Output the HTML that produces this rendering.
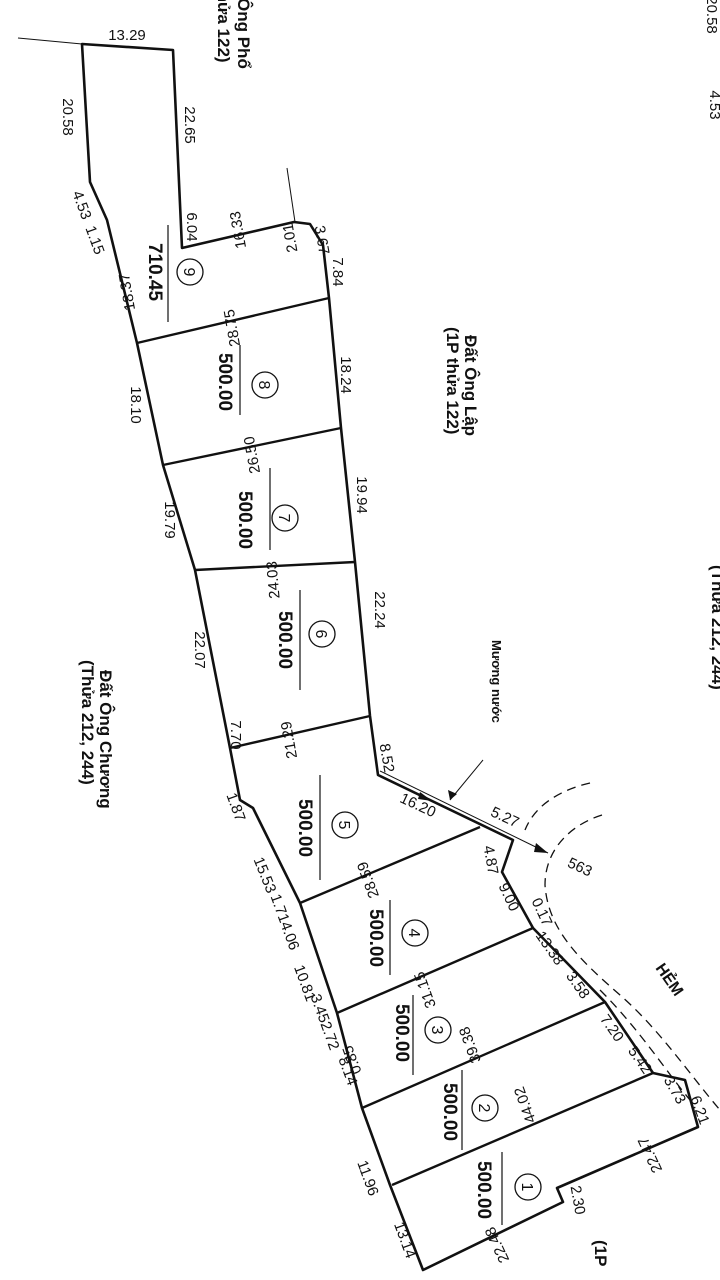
<!DOCTYPE html>
<html><head><meta charset="utf-8"><style>
html,body{margin:0;padding:0;background:#fff;}
svg{display:block;}
text{font-family:"Liberation Sans",sans-serif;fill:#111;}
.d{font-size:15px;}
.a{font-size:19px;font-weight:bold;}
.n{font-size:16px;}
.o{font-family:"Liberation Serif",serif;font-weight:bold;font-size:17px;}
</style></head><body>
<svg width="720" height="1280" viewBox="0 0 720 1280" xmlns="http://www.w3.org/2000/svg">
<g fill="none" stroke="#111">
<line x1="18" y1="38" x2="82" y2="44" stroke-width="1"/>
<line x1="287" y1="168" x2="295" y2="222" stroke-width="1"/>
<polygon stroke-width="2.6" stroke-linejoin="round" points="82,44 173,50 182,248 294,222 310,224 323,245 329,298 341,428 355,562 370,716 378,775 513,840 502,872 533,928 605,1002 653,1073 685,1080 698,1127 557,1188 563,1202 423,1270 390,1185 362,1108 337,1013 300,903 253,808 240,800 230,748 195,570 163,465 137,343 107,220 90,182"/>
<g stroke-width="2.4">
<line x1="137" y1="343" x2="329" y2="298"/>
<line x1="163" y1="465" x2="341" y2="428"/>
<line x1="195" y1="570" x2="355" y2="562"/>
<line x1="230" y1="748" x2="370" y2="716"/>
<line x1="300" y1="903" x2="480" y2="827"/>
<line x1="337" y1="1013" x2="533" y2="928"/>
<line x1="362" y1="1108" x2="605" y2="1002"/>
<line x1="392" y1="1185" x2="653" y2="1073"/>
</g>
<line x1="380" y1="771" x2="548" y2="853" stroke-width="1"/>
<line x1="483" y1="760" x2="450" y2="800" stroke-width="1"/>
<g stroke-width="1.3" stroke-dasharray="9,6">
<path d="M590,783 C560,790 535,805 525,830"/>
<path d="M602,815 C570,825 545,850 545,885 C548,930 580,960 620,995 C660,1030 690,1075 720,1110"/>
<path d="M600,990 C640,1030 665,1070 690,1100"/>
</g>
<g stroke-width="1.2">
<line x1="168" y1="225" x2="168" y2="322"/>
<line x1="240" y1="345" x2="240" y2="415"/>
<line x1="270" y1="468" x2="270" y2="550"/>
<line x1="300" y1="590" x2="300" y2="690"/>
<line x1="320" y1="775" x2="320" y2="880"/>
<line x1="390" y1="900" x2="390" y2="975"/>
<line x1="413" y1="995" x2="413" y2="1075"/>
<line x1="462" y1="1070" x2="462" y2="1150"/>
<line x1="502" y1="1152" x2="502" y2="1225"/>
</g>
<g stroke-width="1.3">
<circle cx="190" cy="272" r="13"/><circle cx="265" cy="385" r="13"/><circle cx="285" cy="518" r="13"/>
<circle cx="322" cy="634" r="13"/><circle cx="345" cy="825" r="13"/><circle cx="415" cy="933" r="13"/>
<circle cx="438" cy="1030" r="13"/><circle cx="485" cy="1108" r="13"/><circle cx="528" cy="1187" r="13"/>
</g>
</g>
<polygon points="548,853 536,843 534,852" fill="#111"/>
<polygon points="450,800 448,790 457,794" fill="#111"/>
<polygon points="432,801 420,792 418,799" fill="#111"/>
<g class="n" text-anchor="middle">
<text transform="translate(190,272) rotate(90)" y="6">9</text>
<text transform="translate(265,385) rotate(90)" y="6">8</text>
<text transform="translate(285,518) rotate(90)" y="6">7</text>
<text transform="translate(322,634) rotate(90)" y="6">6</text>
<text transform="translate(345,825) rotate(90)" y="6">5</text>
<text transform="translate(415,933) rotate(90)" y="6">4</text>
<text transform="translate(438,1030) rotate(90)" y="6">3</text>
<text transform="translate(485,1108) rotate(90)" y="6">2</text>
<text transform="translate(528,1187) rotate(90)" y="6">1</text>
</g>
<g class="a" text-anchor="middle">
<text transform="translate(155,272) rotate(90)" y="6">710.45</text>
<text transform="translate(225,382) rotate(90)" y="6">500.00</text>
<text transform="translate(245,520) rotate(90)" y="6">500.00</text>
<text transform="translate(285,640) rotate(90)" y="6">500.00</text>
<text transform="translate(305,828) rotate(90)" y="6">500.00</text>
<text transform="translate(376,938) rotate(90)" y="6">500.00</text>
<text transform="translate(402,1033) rotate(90)" y="6">500.00</text>
<text transform="translate(450,1112) rotate(90)" y="6">500.00</text>
<text transform="translate(484,1190) rotate(90)" y="6">500.00</text>
</g>
<g class="d" text-anchor="middle">
<text x="127" y="40">13.29</text>
<text transform="translate(68,117) rotate(90)" y="5">20.58</text>
<text transform="translate(190,125) rotate(90)" y="5">22.65</text>
<text transform="translate(82,205) rotate(70)" y="5">4.53</text>
<text transform="translate(95,240) rotate(70)" y="5">1.15</text>
<text transform="translate(192,227) rotate(90)" y="5">6.04</text>
<text transform="translate(238,230) rotate(-100)" y="5">16.33</text>
<text transform="translate(290,238) rotate(-100)" y="5">2.01</text>
<text transform="translate(322,240) rotate(80)" y="5">3.67</text>
<text transform="translate(338,272) rotate(90)" y="5">7.84</text>
<text transform="translate(127,292) rotate(-100)" y="5">18.37</text>
<text transform="translate(232,328) rotate(-100)" y="5">28.75</text>
<text transform="translate(346,375) rotate(90)" y="5">18.24</text>
<text transform="translate(136,405) rotate(90)" y="5">18.10</text>
<text transform="translate(252,455) rotate(-100)" y="5">26.50</text>
<text transform="translate(362,495) rotate(90)" y="5">19.94</text>
<text transform="translate(170,520) rotate(90)" y="5">19.79</text>
<text transform="translate(273,580) rotate(-95)" y="5">24.03</text>
<text transform="translate(380,610) rotate(90)" y="5">22.24</text>
<text transform="translate(200,650) rotate(90)" y="5">22.07</text>
<text transform="translate(289,740) rotate(-100)" y="5">21.29</text>
<text transform="translate(387,758) rotate(80)" y="5">8.52</text>
<text transform="translate(236,735) rotate(90)" y="5">7.70</text>
<text transform="translate(236,807) rotate(70)" y="5">1.87</text>
<text transform="translate(418,805) rotate(25)" y="5">16.20</text>
<text transform="translate(505,817) rotate(25)" y="5">5.27</text>
<text transform="translate(580,867) rotate(25)" y="5">563</text>
<text transform="translate(491,860) rotate(80)" y="5">4.87</text>
<text transform="translate(509,897) rotate(65)" y="5">9.00</text>
<text transform="translate(542,912) rotate(65)" y="5">0.17</text>
<text transform="translate(368,880) rotate(-110)" y="5">28.59</text>
<text transform="translate(265,875) rotate(68)" y="5">15.53</text>
<text transform="translate(285,922) rotate(70)" y="5">1.714.06</text>
<text transform="translate(305,983) rotate(70)" y="5">10.81</text>
<text transform="translate(325,1022) rotate(70)" y="5">3.452.72</text>
<text transform="translate(348,1071) rotate(70)" y="5">8.14</text>
<text transform="translate(352,1060) rotate(-110)" y="5">0.85</text>
<text transform="translate(425,990) rotate(-110)" y="5">31.15</text>
<text transform="translate(550,948) rotate(55)" y="5">13.38</text>
<text transform="translate(578,985) rotate(55)" y="5">3.58</text>
<text transform="translate(612,1028) rotate(55)" y="5">7.20</text>
<text transform="translate(640,1060) rotate(55)" y="5">5.42</text>
<text transform="translate(675,1090) rotate(60)" y="5">3.73</text>
<text transform="translate(700,1110) rotate(70)" y="5">6.21</text>
<text transform="translate(470,1045) rotate(-110)" y="5">39.38</text>
<text transform="translate(525,1105) rotate(-110)" y="5">44.02</text>
<text transform="translate(368,1178) rotate(70)" y="5">11.96</text>
<text transform="translate(405,1240) rotate(70)" y="5">13.14</text>
<text transform="translate(650,1155) rotate(-115)" y="5">22.47</text>
<text transform="translate(578,1200) rotate(80)" y="5">2.30</text>
<text transform="translate(497,1245) rotate(-115)" y="5">22.48</text>
<text transform="translate(712,15) rotate(90)" y="5">20.58</text>
<text transform="translate(715,105) rotate(90)" y="5">4.53</text>
</g>
<g class="o">
<text transform="translate(238,-2) rotate(90)"><tspan x="0" y="0">Ông Phổ</tspan><tspan x="-12" y="20">thửa 122)</tspan></text>
<text transform="translate(465,335) rotate(90)"><tspan x="0" y="0">Đất Ông Lập</tspan><tspan x="-8" y="18">(1P thửa 122)</tspan></text>
<text transform="translate(100,670) rotate(90)"><tspan x="0" y="0">Đất Ông Chương</tspan><tspan x="-10" y="18">(Thửa 212, 244)</tspan></text>
<text transform="translate(712,565) rotate(90)">(Thửa 212, 244)</text>
<text transform="translate(595,1240) rotate(90)">(1P</text>
<text transform="translate(655,968) rotate(55)" font-size="16">HẺM</text>
<text transform="translate(492,640) rotate(90)" font-size="13">Mương nước</text>
</g>
</svg>
</body></html>
